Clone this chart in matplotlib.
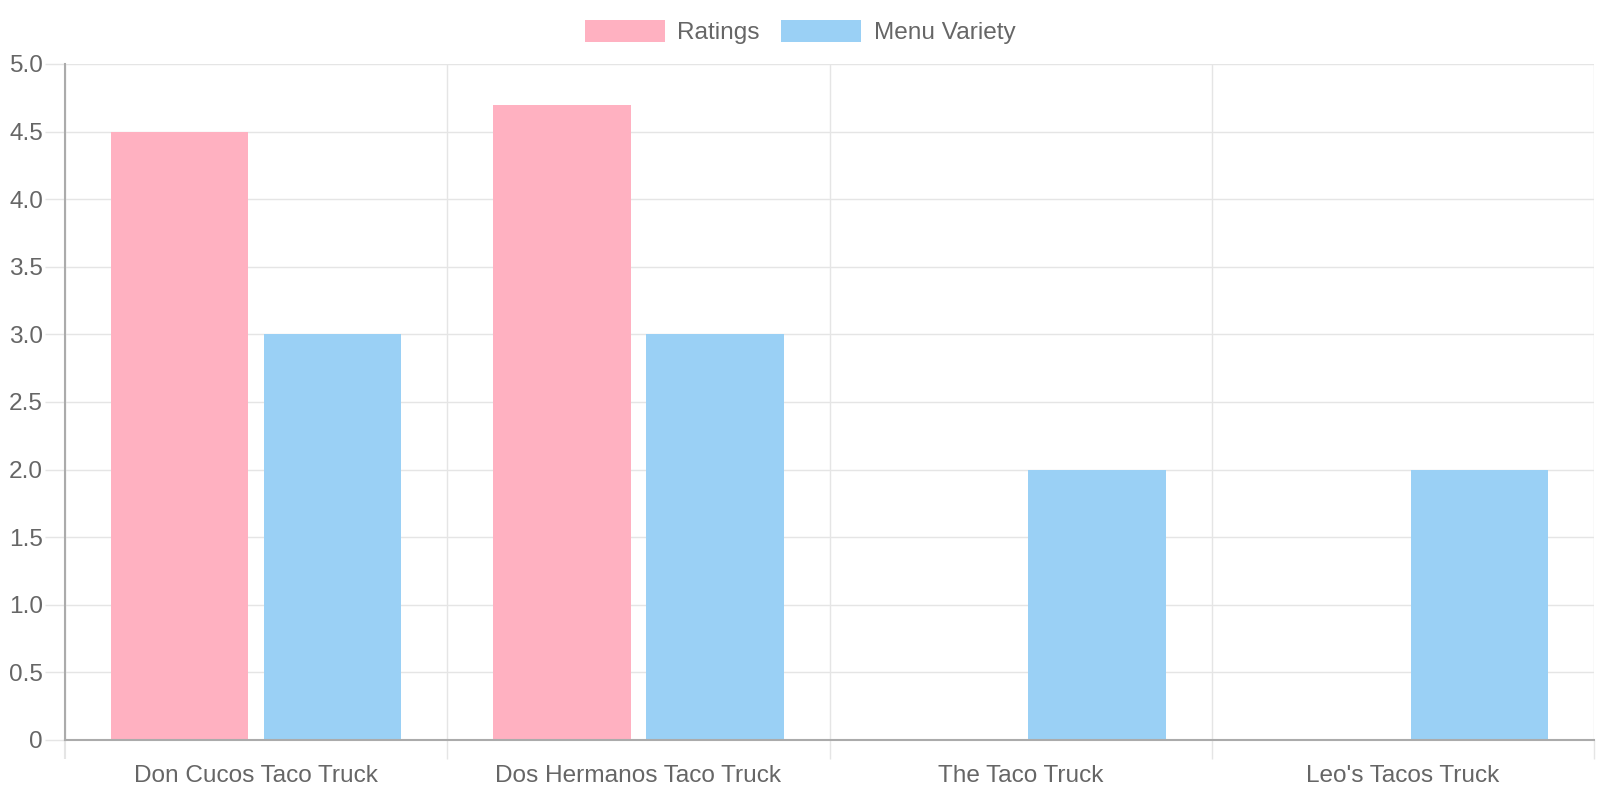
import matplotlib
matplotlib.use("Agg")
import matplotlib.pyplot as plt
from matplotlib.patches import Patch
import numpy as np

plt.rcParams['font.family'] = ['Liberation Sans', 'DejaVu Sans']

categories = ["Don Cucos Taco Truck", "Dos Hermanos Taco Truck", "The Taco Truck", "Leo's Tacos Truck"]
ratings = [4.5, 4.7, 0, 0]
menu_variety = [3, 3, 2, 2]
series_names = ["Ratings", "Menu Variety"]
y_ticks = [0, 0.5, 1.0, 1.5, 2.0, 2.5, 3.0, 3.5, 4.0, 4.5, 5.0]
y_tick_labels = ["0", "0.5", "1.0", "1.5", "2.0", "2.5", "3.0", "3.5", "4.0", "4.5", "5.0"]

pink = "#ffb1c1"
blue = "#9ad0f5"
grid_c = "#e5e5e5"
axis_c = "#ababab"
text_c = "#666666"
fs = 17.6

W, H = 1600, 800
fig = plt.figure(figsize=(16, 8), dpi=100)
L, R, T, B = 65, 1594, 64, 740
ax = fig.add_axes([L / W, 1 - B / H, (R - L) / W, (B - T) / H])

x = np.arange(len(categories))
bw = 0.36
ax.bar(x - 0.2, ratings, width=bw, color=pink, linewidth=0, zorder=2)
ax.bar(x + 0.2, menu_variety, width=bw, color=blue, linewidth=0, zorder=2)

ax.set_xlim(-0.5, len(categories) - 0.5)
ax.set_ylim(0, 5)

for s in ["top", "right"]:
    ax.spines[s].set_visible(False)
for s in ["left", "bottom"]:
    ax.spines[s].set_color(axis_c)
    ax.spines[s].set_linewidth(1.5)
    ax.spines[s].set_zorder(3)

# y axis
ax.set_yticks(y_ticks)
ax.set_yticklabels(y_tick_labels)
ax.tick_params(axis="y", length=14.4, width=1, color=grid_c, pad=1.5,
               labelsize=fs, labelcolor=text_c)
ax.yaxis.grid(True, color=grid_c, linewidth=1, zorder=0)

# x axis: boundaries as major ticks (grid + tick marks), labels at minor ticks
bounds = np.arange(len(categories) + 1) - 0.5
ax.set_xticks(bounds)
ax.set_xticklabels([""] * len(bounds))
ax.set_xticks(x, minor=True)
ax.set_xticklabels(categories, minor=True)
ax.tick_params(axis="x", which="major", length=13.7, width=1, color=grid_c)
ax.tick_params(axis="x", which="minor", length=0, pad=18, labelsize=fs, labelcolor=text_c)
ax.xaxis.grid(True, which="major", color=grid_c, linewidth=1, zorder=0)
ax.get_xaxis().get_major_ticks()[0].tick1line.set_color(axis_c)
ax.get_xaxis().get_major_ticks()[0].tick1line.set_markeredgewidth(1.5)
ax.set_axisbelow(True)

handles = [Patch(facecolor=pink, edgecolor="none"), Patch(facecolor=blue, edgecolor="none")]
fig.legend(handles, series_names, loc="center", bbox_to_anchor=(0.5, 1 - 32 / H),
           ncol=2, frameon=False, fontsize=fs, labelcolor=text_c,
           handlelength=3.3, handleheight=1.0, handletextpad=0.5,
           columnspacing=0.85, borderpad=0, borderaxespad=0)

fig.savefig("out.png", dpi=100, facecolor="white")
